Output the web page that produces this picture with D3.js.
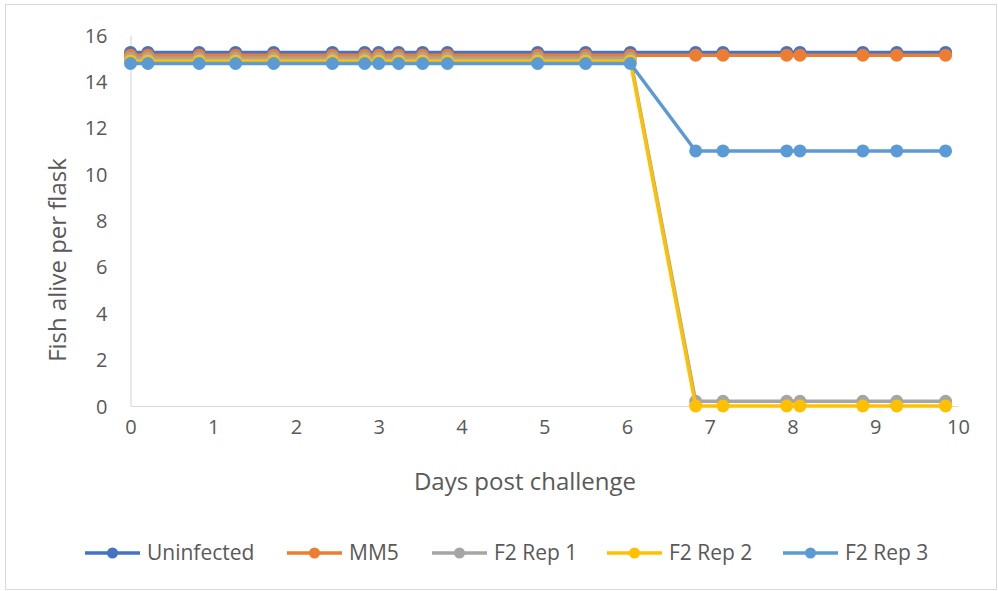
<!DOCTYPE html>
<html>
<head>
<meta charset="utf-8">
<script src="https://cdn.jsdelivr.net/npm/d3@7"></script>
<style>
  html, body { margin: 0; padding: 0; background: #fff; }
  svg { display: block; }
  text { font-family: "Open Sans", Lato, sans-serif; fill: #595959; }
</style>
</head>
<body>
<svg id="chart" width="998" height="591"></svg>
<script>
// ---- data ----
const days = [0, 0.21, 0.83, 1.27, 1.73, 2.44, 2.83, 3.0, 3.24, 3.53, 3.83, 4.92, 5.5, 6.04,
              6.83, 7.16, 7.93, 8.09, 8.85, 9.26, 9.85];
const seriesNames = ["Uninfected", "MM5", "F2 Rep 1", "F2 Rep 2", "F2 Rep 3"];
const uninfected = [15.25, 15.25, 15.25, 15.25, 15.25, 15.25, 15.25, 15.25, 15.25, 15.25, 15.25, 15.25, 15.25, 15.25,
                    15.25, 15.25, 15.25, 15.25, 15.25, 15.25, 15.25];
const mm5 = [15.13, 15.13, 15.13, 15.13, 15.13, 15.13, 15.13, 15.13, 15.13, 15.13, 15.13, 15.13, 15.13, 15.13,
             15.13, 15.13, 15.13, 15.13, 15.13, 15.13, 15.13];
const f2rep1 = [15, 15, 15, 15, 15, 15, 15, 15, 15, 15, 15, 15, 15, 15,
                0.2, 0.2, 0.2, 0.2, 0.2, 0.2, 0.2];
const f2rep2 = [14.88, 14.88, 14.88, 14.88, 14.88, 14.88, 14.88, 14.88, 14.88, 14.88, 14.88, 14.88, 14.88, 14.88,
                0, 0, 0, 0, 0, 0, 0];
const f2rep3 = [14.77, 14.77, 14.77, 14.77, 14.77, 14.77, 14.77, 14.77, 14.77, 14.77, 14.77, 14.77, 14.77, 14.77,
                11, 11, 11, 11, 11, 11, 11];
const xTicks = [0, 1, 2, 3, 4, 5, 6, 7, 8, 9, 10];
const yTicks = [0, 2, 4, 6, 8, 10, 12, 14, 16];
const colors = ["#4472C4", "#ED7D31", "#A5A5A5", "#FFC000", "#5B9BD5"];
const xTitle = "Days post challenge";
const yTitle = "Fish alive per flask";

const seriesValues = [uninfected, mm5, f2rep1, f2rep2, f2rep3];
const series = seriesNames.map((name, i) => ({
  name, color: colors[i],
  points: days.map((d, j) => ({ x: d, y: seriesValues[i][j] }))
}));

// ---- layout ----
const svg = d3.select("#chart");
const W = 998, H = 591;
const plot = { left: 130.5, right: 958, top: 35, bottom: 406 };

// chart border
svg.append("rect")
  .attr("x", 5.5).attr("y", 4.5).attr("width", W - 7).attr("height", H - 6)
  .attr("fill", "#fff").attr("stroke", "#d9d9d9").attr("stroke-width", 1);

const x = d3.scaleLinear().domain([0, 10]).range([plot.left, plot.right]);
const y = d3.scaleLinear().domain([0, 16]).range([plot.bottom, plot.top]);

// axes
const xAxis = d3.axisBottom(x).tickValues(xTicks).tickSize(0).tickPadding(28).tickFormat(d3.format("d"));
const yAxis = d3.axisLeft(y).tickValues(yTicks).tickSize(0).tickPadding(23).tickFormat(d3.format("d"));

const gx = svg.append("g").attr("transform", `translate(0,${plot.bottom})`).call(xAxis);
gx.select(".domain").attr("stroke", "#d9d9d9").attr("stroke-width", 1.2);
gx.selectAll("text").style("font-size", "20px").style("font-family", "'Open Sans', sans-serif")
  .attr("fill", "#595959").attr("dy", "0");

const gy = svg.append("g").attr("transform", `translate(${plot.left},0)`).call(yAxis);
gy.select(".domain").attr("stroke", "#d9d9d9").attr("stroke-width", 1.2);
gy.selectAll("text").style("font-size", "20px").style("font-family", "'Open Sans', sans-serif")
  .attr("fill", "#595959").attr("dy", "0.35em");

// axis titles
svg.append("text").attr("x", 525).attr("y", 490).attr("text-anchor", "middle")
  .style("font-size", "24px").text(xTitle);
svg.append("text").attr("transform", "translate(66,260) rotate(-90)").attr("text-anchor", "middle")
  .style("font-size", "24px").text(yTitle);

// lines
const line = d3.line().x(d => x(d.x)).y(d => y(d.y));
const gs = svg.append("g").selectAll("g").data(series).join("g");
gs.append("path")
  .attr("d", d => line(d.points))
  .attr("fill", "none").attr("stroke", d => d.color)
  .attr("stroke-width", 3.5).attr("stroke-linejoin", "round");
gs.selectAll("circle").data(d => d.points.map(p => ({ ...p, color: d.color }))).join("circle")
  .attr("cx", d => x(d.x)).attr("cy", d => y(d.y)).attr("r", 6.5)
  .attr("fill", d => d.color);

// legend
const legendX = [85, 287, 432, 607, 783];
const legendY = 553;
const lg = svg.append("g").selectAll("g").data(series).join("g")
  .attr("transform", (d, i) => `translate(${legendX[i]},${legendY})`);
lg.append("line").attr("x1", 0).attr("x2", 55).attr("y1", 0).attr("y2", 0)
  .attr("stroke", d => d.color).attr("stroke-width", 3.5);
lg.append("circle").attr("cx", 27.5).attr("cy", 0).attr("r", 5.5).attr("fill", d => d.color);
lg.append("text").attr("x", 62).attr("y", 0).attr("dy", "0.35em")
  .style("font-size", "21px").text(d => d.name);
</script>
</body>
</html>
